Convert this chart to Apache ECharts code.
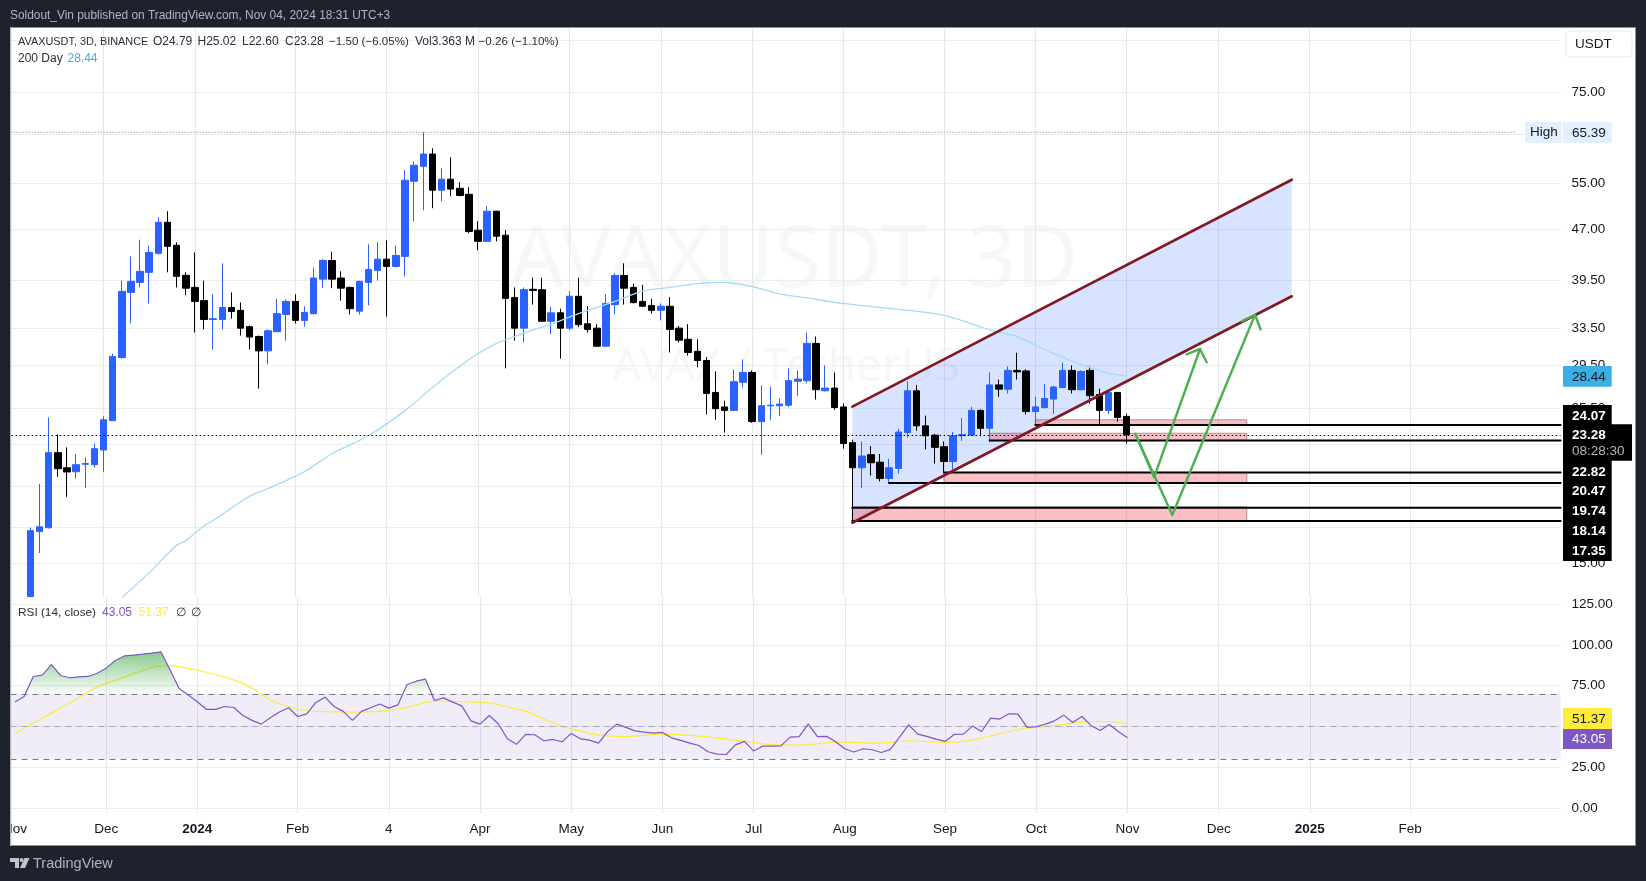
<!DOCTYPE html>
<html><head><meta charset="utf-8">
<style>html,body{margin:0;padding:0;background:#1e222d;overflow:hidden}#c{width:1646px;height:881px}</style>
<script src="https://cdn.jsdelivr.net/npm/echarts@6/dist/echarts.min.js"></script>
</head><body><div id="c"></div>
<script>
// ---- data ----
const barCount = 170;
const monthTicks = {0:'Nov',10:'Dec',20:'2024',31:'Feb',41:'4',51:'Apr',61:'May',71:'Jun',81:'Jul',91:'Aug',102:'Sep',112:'Oct',122:'Nov',132:'Dec',142:'2025',153:'Feb'};
const priceTicks = [15,17,19.5,22.5,25.5,29.5,33.5,39.5,47,55,65,75,89.5];
const priceLabels = [15,25.5,29.5,33.5,39.5,47,55,65,75];
const rsiTicks = [0,25,50,75,100,125];
const opens = [null,null,13.4,16.73,16.95,21.9,20.8,20.52,21.05,21.02,22.1,24.43,30.3,37.85,39.16,40.53,43.25,48.08,44.45,40.12,38.5,36.8,34.5,34.5,35.95,35.6,33.67,32.55,31.0,33.1,35.1,36.7,34.4,35.2,39.6,42.2,39.75,38.5,35.5,39.16,40.8,42.4,41.35,42.8,55.3,58.2,60.7,53.65,55.7,54.0,52.9,46.8,45.05,49.93,46.0,37.2,33.5,38.25,38.2,34.3,35.3,33.5,37.35,34.0,33.5,31.5,36.3,40.1,38.5,36.7,36.2,35.6,36.1,33.5,32.25,30.95,30.0,26.9,25.6,25.3,27.85,28.8,24.35,25.7,25.7,25.75,27.95,28.0,31.8,27.05,27.3,25.6,22.66,20.8,21.75,21.2,20.05,20.75,23.45,27.05,24.0,23.25,22.35,21.25,23.2,23.25,25.3,23.8,27.6,27.2,29.0,28.95,25.2,25.55,26.3,27.35,29.0,27.15,29.0,26.7,25.3,26.9,24.79];
const closes = [null,null,16.78,17.0,21.9,20.73,20.5,21.02,21.1,22.2,24.5,30.4,37.98,39.3,40.67,43.39,48.08,44.3,39.98,38.4,36.7,34.5,34.6,35.95,35.45,33.5,32.5,31.0,33.2,35.2,36.7,34.4,35.35,39.75,42.2,39.6,38.4,35.8,39.3,40.93,42.4,41.35,42.95,55.5,58.4,60.7,53.65,55.7,53.85,52.7,46.6,45.05,49.93,45.85,37.08,33.5,38.2,38.1,34.3,35.3,33.5,37.35,33.9,33.35,31.5,36.45,40.1,38.4,36.55,36.1,35.6,36.1,33.35,32.15,30.83,30.0,26.8,25.45,25.3,27.9,28.8,24.35,25.7,25.75,25.85,28.0,28.15,31.8,27.15,27.3,25.55,22.6,20.8,21.65,21.16,20.05,20.8,23.5,27.05,24.0,23.2,22.3,21.25,23.2,23.3,25.3,23.8,27.6,27.2,29.0,28.85,25.2,25.6,26.35,27.4,29.0,27.15,28.9,26.6,25.3,26.9,24.7,23.28];
const highs = [null,null,16.95,19.69,24.7,23.3,22.3,21.82,21.53,22.6,24.8,30.7,39.43,42.8,45.3,44.4,48.9,49.93,44.9,40.53,43.39,39.4,37.6,41.8,37.85,36.57,33.8,32.67,33.35,37.0,36.95,37.6,36.1,41.2,42.4,43.5,40.67,38.6,39.4,44.6,44.9,45.2,44.4,57.45,59.2,65.39,61.9,57.8,60.05,55.13,54.2,48.25,50.8,50.0,46.8,38.5,38.5,39.8,39.8,36.0,35.8,38.0,39.8,36.1,33.95,37.6,40.4,41.8,39.0,38.85,37.05,36.45,37.25,33.75,33.95,32.25,30.35,28.9,26.15,29.1,30.1,29.0,27.55,27.4,26.35,29.2,29.0,33.0,32.55,29.5,28.8,25.9,22.9,22.75,22.4,21.8,21.45,23.75,27.95,27.6,24.85,23.35,22.75,23.5,24.65,25.6,25.4,28.8,28.1,29.4,30.8,29.1,26.5,27.7,27.5,29.8,29.5,29.0,29.4,27.25,27.15,26.95,25.02];
const lows = [null,null,13.4,15.55,16.9,20.17,18.83,20.03,19.42,20.8,20.52,24.4,30.2,34.05,38.5,36.45,43.1,40.53,38.5,37.47,33.0,33.35,31.15,33.35,34.6,32.67,31.15,27.25,29.6,33.1,32.1,34.05,33.67,35.1,38.4,38.4,36.8,35.1,35.1,36.2,39.4,34.85,41.2,39.98,48.25,50.1,50.45,51.65,52.55,52.55,46.3,43.7,45.0,45.05,29.2,32.1,31.9,36.3,34.25,32.8,30.2,33.25,33.6,33.0,31.4,31.4,35.1,36.3,36.45,36.0,35.2,34.4,30.83,31.9,30.5,29.3,24.95,24.5,23.45,25.25,27.35,24.26,21.75,24.5,24.8,25.6,26.55,27.75,26.25,27.0,25.35,22.2,17.35,19.4,20.25,19.85,19.7,20.4,23.05,23.6,22.15,21.1,20.45,20.45,22.8,23.2,23.15,22.7,26.5,26.8,28.1,24.95,24.1,25.45,25.0,27.3,26.8,27.1,25.9,24.0,25.0,24.35,22.6];
const ma200 = [[12,13.35],[15,14.54],[18,15.96],[19,16.22],[21,17.07],[22,17.37],[24,18.13],[26,18.88],[28,19.38],[32,20.53],[35,21.82],[39,23.2],[43,25.28],[46,27.35],[50,30.1],[53,31.8],[55,32.55],[57,33.3],[59,33.95],[62,35.2],[66,36.7],[69,38.0],[72,38.5],[75,39.0],[78,39.16],[81,38.6],[84,37.65],[87,37.15],[91,36.45],[95,35.95],[102,35.0],[107,33.3],[110,32.55],[114,30.7],[117,29.6],[120,28.7],[122,28.44]];
const rsi = [64.9,68.3,80.6,81.4,87.9,81.2,79.8,80.4,80.6,82.6,85.7,90.4,93.2,93.7,94.3,94.9,95.7,84.7,73.2,69.2,65.1,60.4,60.4,62.2,61.6,56.7,53.7,51.4,55.3,58.8,61.4,56.1,57.7,64.7,67.9,62.2,59.2,53.7,59.2,61.4,63.7,61.2,63.2,75.7,77.7,79.0,65.9,67.5,64.9,62.6,53.4,51.4,56.7,51.6,42.4,39.0,45.1,44.9,41.2,42.0,40.6,45.7,42.4,41.6,39.8,46.9,51.4,49.4,47.3,46.5,45.9,46.3,43.0,41.4,39.8,38.3,34.5,33.0,32.8,38.7,40.8,34.9,37.9,37.9,38.1,43.4,43.7,51.6,43.7,43.9,40.6,36.3,34.3,36.3,35.7,34.0,35.9,43.4,51.0,45.3,43.9,42.2,40.8,45.1,45.3,50.2,46.9,55.1,54.5,57.7,57.5,49.4,49.8,51.4,53.4,56.9,52.4,56.1,50.6,47.5,51.2,46.9,43.05];
const rsiMa = [[0,45.5],[3,55.1],[6,64.3],[9,74.1],[12,80.2],[15,86.1],[17,87.3],[20,84.4],[24,78.5],[26,73.4],[28,66.3],[30,62.2],[32,59.6],[34,59.0],[37,58.8],[40,59.4],[43,61.6],[45,64.7],[47,65.5],[50,64.9],[52,64.5],[54,61.8],[56,59.4],[58,54.5],[60,50.0],[61,48.5],[64,44.7],[67,43.9],[71,45.1],[74,44.5],[80,41.0],[83,38.8],[86,38.5],[90,40.4],[95,39.8],[98,41.2],[102,40.2],[105,41.6],[109,46.9],[111,48.9],[114,50.4],[117,52.6],[120,53.0],[122,51.37]];
const rsiBand = {upper:70, middle:50, lower:30};
const highPrice = 65.39, lastPrice = 23.28;
// drawings, as [bar position, price]
const channelTop = [[91.97,25.63],[140.07,55.6]];
const channelBottom = [[91.97,17.24],[140.07,37.35]];
// zones: [from bar, to bar, upper price, lower price]
const zones = [[112,135.15,24.5,24.07],[107,135.15,23.4,22.82],[102,135.15,20.47,19.74],[91.97,135.15,18.2,17.35]];
// levels: [from bar, price]
const levels = [[112,24.07],[107,22.82],[102,20.47],[96,19.74],[91.97,18.14],[91.97,17.35]];
const arrowA = [[122.95,23.35],[125,20.13],[130.03,31.2]];
const arrowAHead = [[128.57,30.62],[130.03,31.2],[130.76,29.82]];
const arrowB = [[122.95,23.35],[127,17.7],[136.05,35.07]];
const arrowBHead = [[134.6,34.3],[136.05,35.07],[136.67,33.35]];
const headerText = 'Soldout_Vin published on TradingView.com, Nov 04, 2024 18:31 UTC+3';
const legendParts = ['AVAXUSDT, 3D, BINANCE','O24.79','H25.02','L22.60','C23.28','\u22121.50 (\u22126.05%)','Vol3.363 M','\u22120.26 (\u22121.10%)'];
const watermarkMain = 'AVAXUSDT, 3D', watermarkSub = 'AVAX / TetherUS';

// ---- chart ----
const F = '"Liberation Sans", sans-serif';
const WF = '"Noto Sans", sans-serif';
const INK = '#131722', GRID = '#ecedef', DARK = '#1e222d';
const candles = opens.map((o,i)=> o==null ? '-' : [o,closes[i],lows[i],highs[i]]);
const isMonth = (i)=> monthTicks[i]!==undefined;
const cats = Array.from({length:barCount},(_,i)=>String(i));
const gridL = 7.63, gridW = 9.135*barCount, gridR = 1646-gridL-gridW;

function drawLine(data,color,width,z,extra){
  return Object.assign({type:'line',xAxisIndex:2,yAxisIndex:0,data,showSymbol:false,symbol:'none',silent:true,animation:false,z,
    lineStyle:{color,width,cap:'round',join:'round'}},extra||{});
}
const txt = (x,y,text,fill,size,o)=>({type:'text',x,y,z:60,silent:true,style:Object.assign({text,fill,font:(o&&o.bold?'bold ':'')+size+'px '+F,textVerticalAlign:'middle',textBaseline:'middle',textAlign:(o&&o.align)||'left'})});
const box = (x,y,w,h,fill,z,r)=>({type:'rect',z:z==null?55:z,silent:true,shape:{x,y,width:w,height:h,r:r||0},style:{fill}});

const legendX = [18,152.9,197.5,242,285,329,415,478.6];
const legendSize = [10.9,12,12,12,12,11.6,12,11.6];
const graphics = [
  {type:'text',x:794,y:263,z:0,silent:true,style:{text:watermarkMain,fill:'rgba(40,70,60,0.045)',font:'85px '+WF,textAlign:'center',textVerticalAlign:'middle'}},
  {type:'text',x:786,y:368,z:0,silent:true,style:{text:watermarkSub,fill:'rgba(40,70,60,0.045)',font:'46px '+WF,textAlign:'center',textVerticalAlign:'middle'}},
  // bezel
  box(0,0,1646,27,DARK,100), box(0,846,1646,35,DARK,100), box(0,0,10,881,DARK,100), box(1636,0,10,881,DARK,100),
  box(10,27,1626,1,'#8d9099',101), box(10,845,1626,1,'#8d9099',101), box(10,27,1.2,819,'#b4b6bc',101), box(1635,27,1,819,'#8d9099',101),
  Object.assign(txt(10,16,headerText,'#b2b5be',11.9),{z:110}),
  // logo
  {type:'polygon',z:110,silent:true,shape:{points:[[10,858],[19,858],[19,868],[15,868],[15,862],[10,862]]},style:{fill:'#c0c3cb'}},
  {type:'circle',z:110,silent:true,shape:{cx:21.5,cy:860,r:2},style:{fill:'#c0c3cb'}},
  {type:'polygon',z:110,silent:true,shape:{points:[[24.5,858],[29.5,858],[25,868],[20,868]]},style:{fill:'#c0c3cb'}},
  Object.assign(txt(33,864,'TradingView','#b2b5be',14.5),{z:110}),
  // legends
  ...legendParts.map((t,i)=>txt(legendX[i],42,t,'#2a2e39',legendSize[i])),
  txt(18,59,'200 Day','#2a2e39',12), txt(67.5,59,'28.44','#3cb0e5',12),
  txt(18,613,'RSI (14, close)','#2a2e39',11.8), txt(102,613,'43.05','#7e57c2',12), txt(138.6,613,'51.37','#ffeb3b',12),
  txt(175.7,613,'\u2205','#2a2e39',12), txt(191.4,613,'\u2205','#2a2e39',12),
  // USDT button
  {type:'rect',z:55,silent:true,shape:{x:1566,y:31,width:66,height:26,r:4},style:{fill:'#fff',stroke:'#e8e9ee',lineWidth:1}},
  txt(1575,44.5,'USDT',INK,13.5),
  // tags
  box(1525,122,36.7,21,'#e3effd'), txt(1530,132.5,'High',INK,13.5),
  box(1563,122,48.7,21,'#e3effd'), txt(1572,133,String(highPrice),INK,13.5),
  box(1563,366,48.7,20.7,'#3cb0e5'), txt(1572,377.5,'28.44',INK,13.5),
  box(1563,405,48.7,156,'#000'), box(1563,424.3,69,36.5,'#000'),
  txt(1572,416.5,'24.07','#fff',13.5,{bold:true}), txt(1572,435.5,String(lastPrice),'#fff',13.5,{bold:true}), txt(1572,451.7,'08:28:30','#b2b5be',13.5),
  txt(1572,472.5,'22.82','#fff',13.5,{bold:true}), txt(1572,491.5,'20.47','#fff',13.5,{bold:true}), txt(1572,511,'19.74','#fff',13.5,{bold:true}), txt(1572,531.3,'18.14','#fff',13.5,{bold:true}), txt(1572,551,'17.35','#fff',13.5,{bold:true}),
  box(1563,708,49,21,'#ffeb3b'), txt(1572,719,'51.37',INK,13.5),
  box(1563,729,49,20,'#7e57c2'), txt(1572,739.5,'43.05','#fff',13.5)
];

const xBase = {type:'category',data:cats,boundaryGap:true,axisLine:{show:false},axisTick:{show:false},
  splitLine:{show:true,alignWithLabel:true,interval:(i)=>i>0&&isMonth(i),lineStyle:{color:'#e6e7ea',width:1}}};
const yRight = {position:'right',axisLine:{show:false},axisTick:{show:false},
  axisLabel:{color:INK,fontFamily:F,fontSize:13.5,margin:11,formatter:(v)=>Number(v).toFixed(2),showMinLabel:true,showMaxLabel:true,hideOverlap:false},
  splitLine:{show:true,lineStyle:{color:GRID,width:1}}};

const option = {
  animation:false,backgroundColor:'#fff',
  graphic:{elements:graphics},
  grid:[{left:gridL,right:gridR,top:27,height:570},{left:gridL,right:gridR,top:597,height:216}],
  xAxis:[
    Object.assign({},xBase,{gridIndex:0,axisLabel:{show:false}}),
    Object.assign({},xBase,{gridIndex:1,axisLabel:{show:true,interval:(i)=>isMonth(i),margin:9,color:INK,fontFamily:F,fontSize:13.5,hideOverlap:false,showMinLabel:true,
      formatter:(v,i)=>{const t=monthTicks[i]; return /^20/.test(t)?'{b|'+t+'}':t;},
      rich:{b:{fontWeight:'bold',fontFamily:F,fontSize:13.5,color:INK}}}}),
    {type:'value',gridIndex:0,show:false,min:-0.5,max:barCount-0.5,splitLine:{show:false}}
  ],
  yAxis:[
    Object.assign({},yRight,{type:'log',gridIndex:0,min:13.38,max:93.65,
      axisTick:{show:false,customValues:priceTicks},
      axisLabel:Object.assign({},yRight.axisLabel,{customValues:priceLabels})}),
    Object.assign({},yRight,{type:'value',gridIndex:1,min:-3.06,max:129.3,
      axisTick:{show:false,customValues:rsiTicks},
      axisLabel:Object.assign({},yRight.axisLabel,{customValues:rsiTicks})})
  ],
  series:[
    {type:'custom',xAxisIndex:2,yAxisIndex:0,silent:true,z:1,clip:true,data:[channelTop[0].concat(channelTop[1]).concat(channelBottom[0]).concat(channelBottom[1])],
      encode:{x:[0,2],y:[1,3]},
      renderItem:(p,api)=>{
        const pts=[[api.value(0),api.value(1)],[api.value(2),api.value(3)],[api.value(6),api.value(7)],[api.value(4),api.value(5)]].map(c=>api.coord(c));
        return {type:'polygon',shape:{points:pts},style:{fill:'rgba(41,98,255,0.18)'}};
      }},
    {type:'custom',xAxisIndex:2,yAxisIndex:0,silent:true,z:2,clip:true,data:zones,encode:{x:[0,1],y:[2,3]},
      renderItem:(p,api)=>{
        const a=api.coord([api.value(0),api.value(2)]), b=api.coord([api.value(1),api.value(3)]);
        return {type:'rect',shape:{x:a[0],y:a[1],width:b[0]-a[0],height:b[1]-a[1]},style:{fill:'rgba(242,54,69,0.32)',stroke:'rgba(120,120,120,0.7)',lineWidth:1}};
      }},
    {type:'candlestick',xAxisIndex:0,yAxisIndex:0,data:candles,barWidth:7,z:3,silent:true,clip:true,
      itemStyle:{color:'#2962ff',color0:'#000',borderColor:'#2962ff',borderColor0:'#000',borderWidth:1,borderColorDoji:null},
      markLine:{silent:true,symbol:'none',animation:false,label:{show:false},data:[
        {yAxis:lastPrice,lineStyle:{color:'#000',type:[1.5,2.5],width:1}}]}},
    {type:'line',xAxisIndex:0,yAxisIndex:0,data:ma200,showSymbol:false,symbol:'none',silent:true,z:4,smooth:0.3,lineStyle:{color:'#a3dcf4',width:1.3}},
    drawLine([[-0.5,highPrice],[164.6,highPrice]],'#787b86',1,2,{lineStyle:{color:'#787b86',width:1,type:[1,2]}}),
    ...levels.map(l=>drawLine([[l[0],l[1]],[barCount-0.5,l[1]]],'#000',2,5)),
    drawLine(channelTop,'#801922',2.6,6),
    drawLine(channelBottom,'#801922',2.6,6),
    drawLine(arrowA,'#4caf50',2.4,7), drawLine(arrowAHead,'#4caf50',2.4,7),
    drawLine(arrowB,'#4caf50',2.4,7), drawLine(arrowBHead,'#4caf50',2.4,7),
    // RSI
    {type:'line',xAxisIndex:1,yAxisIndex:1,data:rsi,showSymbol:false,symbol:'none',silent:true,z:5,
      lineStyle:{color:'#7e57c2',width:1.2},
      areaStyle:{origin:rsiBand.upper,color:{type:'linear',x:0,y:651,x2:0,y2:695,global:true,colorStops:[
        {offset:0,color:'rgba(76,175,80,0.95)'},{offset:0.98,color:'rgba(76,175,80,0.03)'},{offset:1,color:'rgba(76,175,80,0)'}]}},
      markArea:{silent:true,itemStyle:{color:'rgba(126,87,194,0.115)'},label:{show:false},data:[[{yAxis:rsiBand.upper},{yAxis:rsiBand.lower}]]},
      markLine:{silent:true,symbol:'none',label:{show:false},data:[
        {yAxis:rsiBand.upper,lineStyle:{color:'#787b86',type:[6,5],width:1}},
        {yAxis:rsiBand.middle,lineStyle:{color:'#a8aab2',type:[6,5],width:1}},
        {yAxis:rsiBand.lower,lineStyle:{color:'#787b86',type:[6,5],width:1}}]}},
    {type:'line',xAxisIndex:1,yAxisIndex:1,data:rsiMa,showSymbol:false,symbol:'none',silent:true,z:4,smooth:0.3,lineStyle:{color:'#ffeb3b',width:1.2}}
  ]
};
const chart = echarts.init(document.getElementById('c'),null,{width:1646,height:881});
chart.setOption(option);
</script></body></html>
